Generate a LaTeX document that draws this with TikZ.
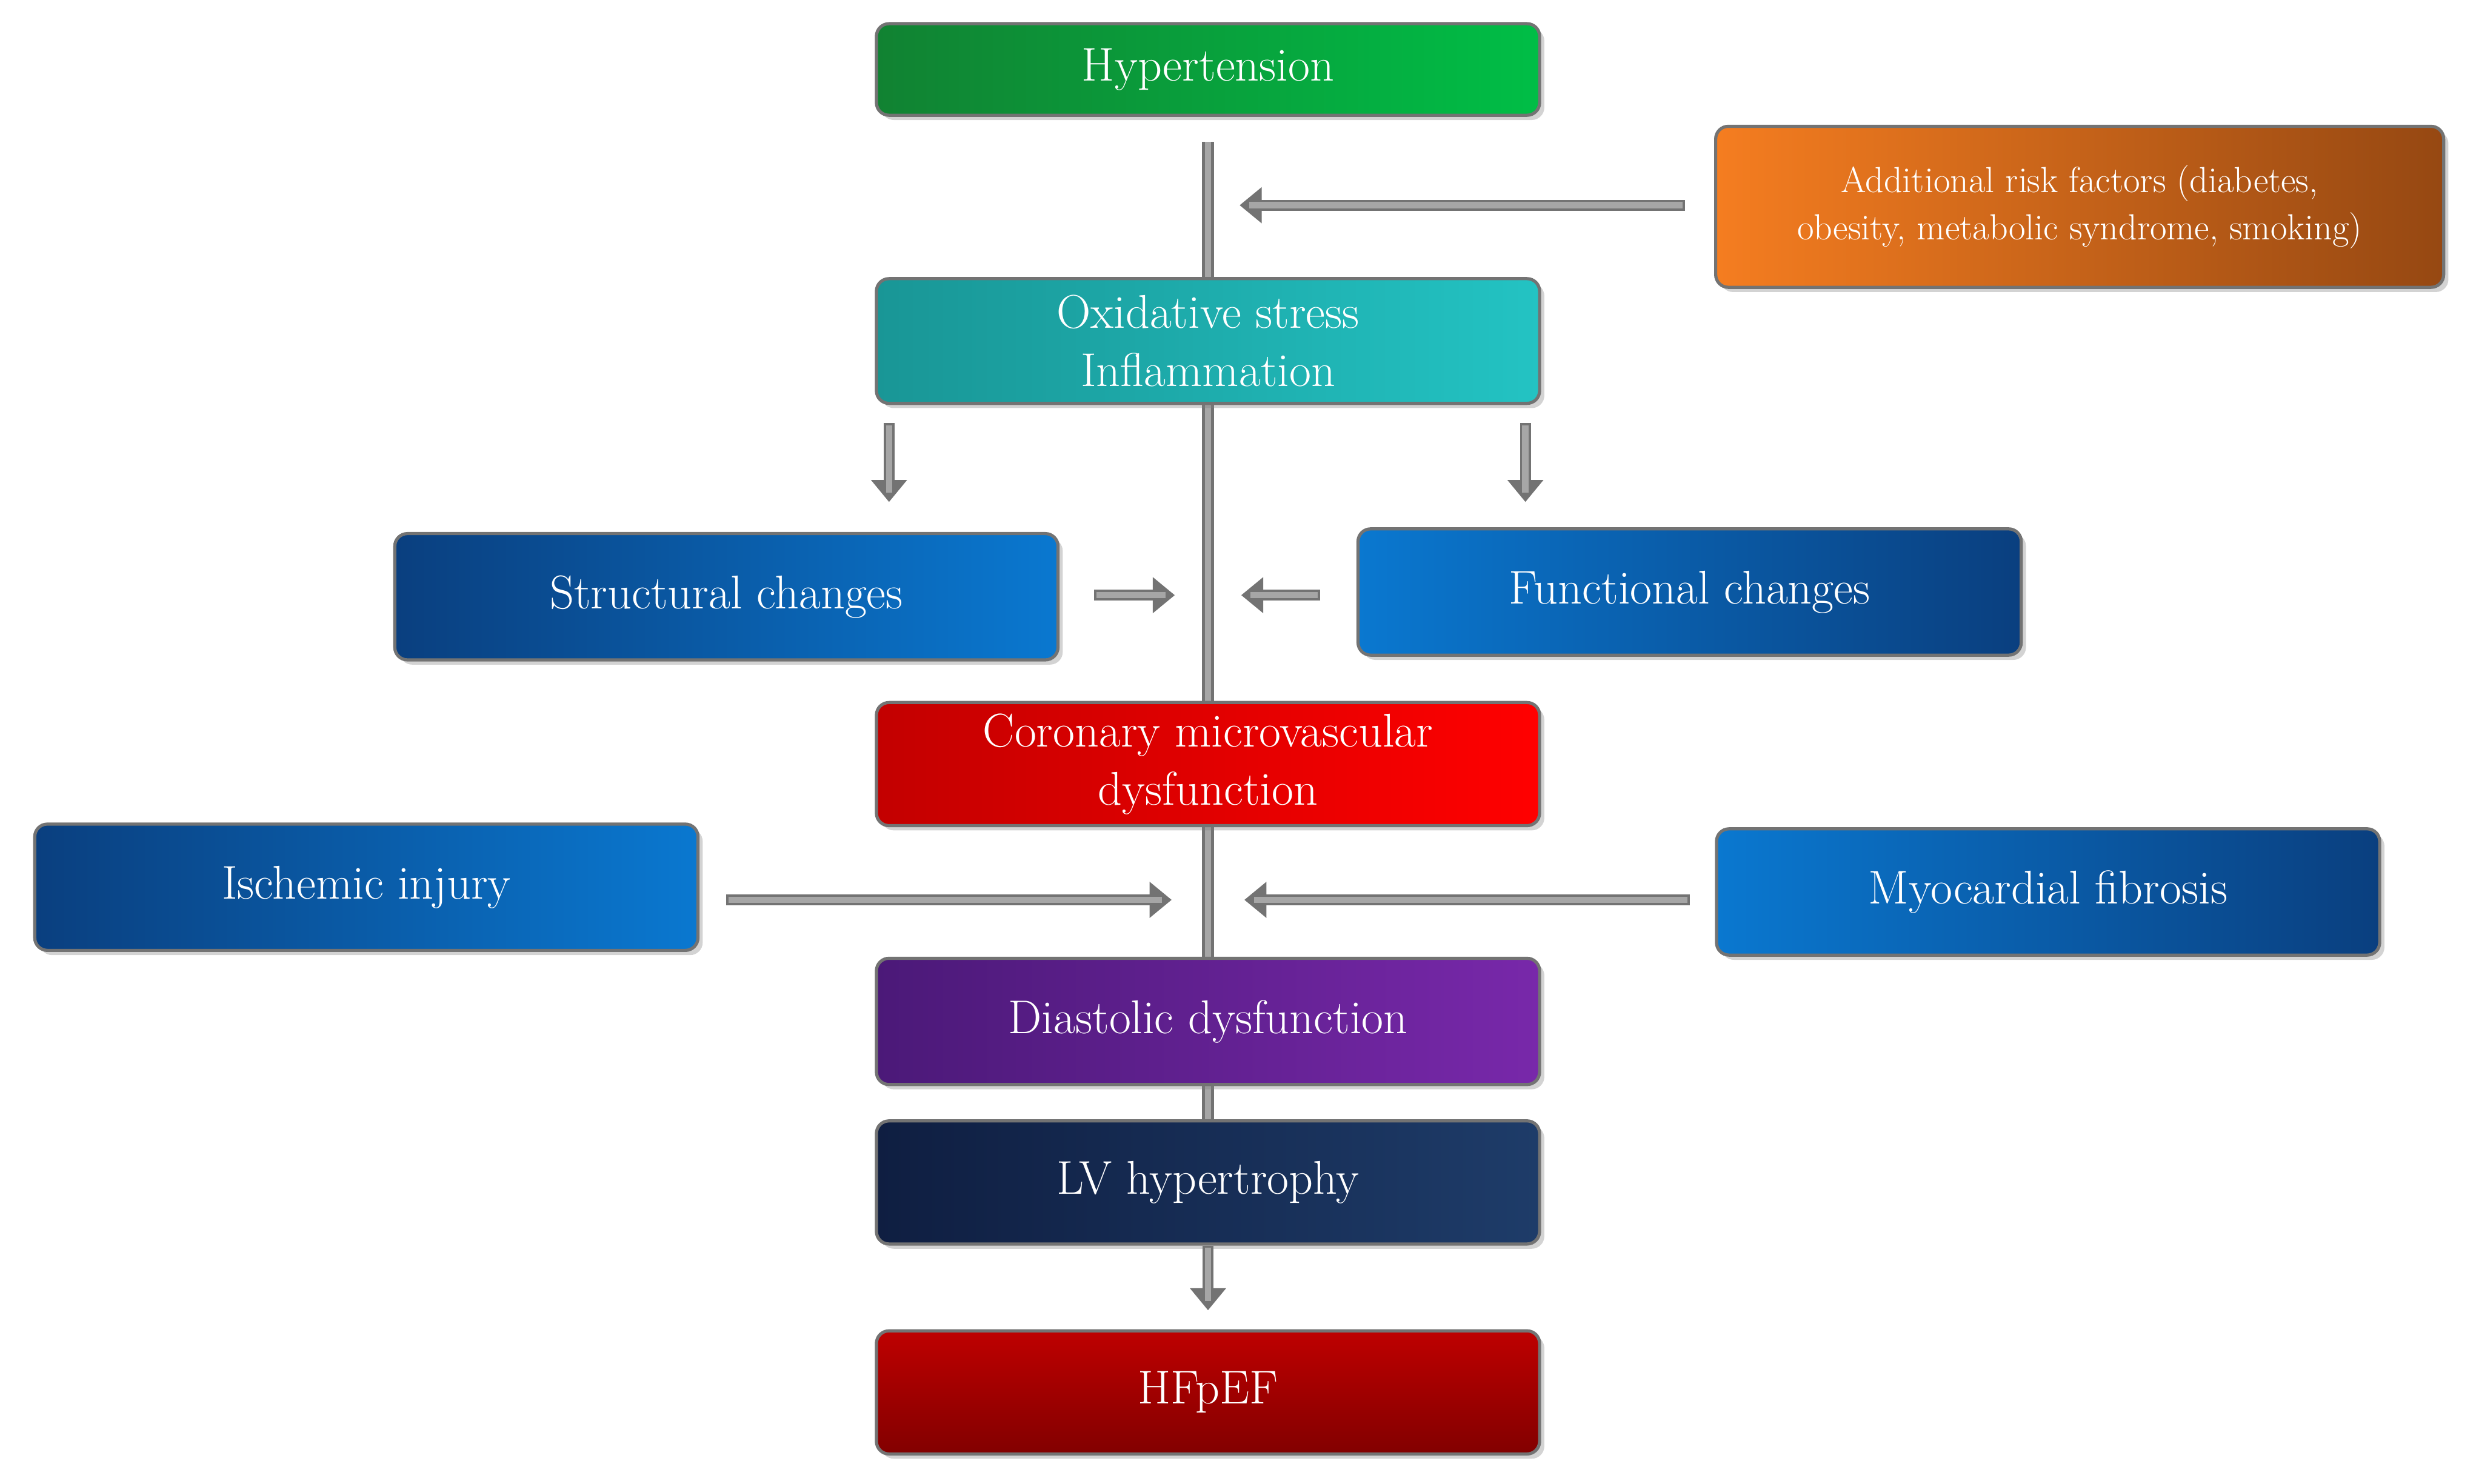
\documentclass[tikz,border=0pt]{standalone}
\usetikzlibrary{arrows.meta,shadows,backgrounds}
\begin{document}
\begin{tikzpicture}[x=1pt,y=1pt,
 box/.style={rounded corners=8pt,draw=black!55,line width=2pt,minimum width=420pt,minimum height=78pt,
   align=center,text=white,font=\fontsize{30}{36}\selectfont,drop shadow={opacity=0.35,shadow xshift=3pt,shadow yshift=-3pt}},
 arr/.style={line width=7pt,draw=black!55,-{Triangle[length=14pt,width=22pt]}},
 arrin/.style={line width=4pt,draw=black!35,shorten >=6pt,shorten <=1.5pt}]
\useasboundingbox (0,0) rectangle (1568,-940);
\definecolor{db}{HTML}{0A3F7F}\definecolor{lb}{HTML}{0A78D0}
\node[box,minimum height=58pt,left color={rgb,255:red,17;green,130;blue,50},right color={rgb,255:red,0;green,190;blue,70}] (hyp) at (765,-44) {Hypertension};
\node[box,minimum width=461pt,minimum height=102pt,font=\fontsize{23}{30}\selectfont,left color={rgb,255:red,245;green,125;blue,32},right color={rgb,255:red,150;green,72;blue,18}] (risk) at (1317,-131) {Additional risk factors (diabetes,\\ obesity, metabolic syndrome, smoking)};
\node[box,minimum height=79pt,font=\fontsize{30}{37}\selectfont,left color={rgb,255:red,25;green,150;blue,150},right color={rgb,255:red,35;green,195;blue,195}] (ox) at (765,-216) {Oxidative stress\\Inflammation};
\node[box,minimum height=80pt,left color=db,right color=lb] (str) at (460,-378) {Structural changes};
\node[box,minimum height=80pt,left color=lb,right color=db] (fun) at (1070,-375) {Functional changes};
\node[box,font=\fontsize{30}{37}\selectfont,left color={rgb,255:red,195;green,0;blue,0},right color={rgb,255:red,255;green,0;blue,0}] (cor) at (765,-484) {Coronary microvascular\\dysfunction};
\node[box,minimum height=80pt,left color=db,right color=lb] (isc) at (232,-562) {Ischemic injury};
\node[box,minimum height=80pt,left color=lb,right color=db] (myo) at (1297,-565) {Myocardial fibrosis};
\node[box,minimum height=80pt,left color={rgb,255:red,75;green,25;blue,120},right color={rgb,255:red,120;green,40;blue,170}] (dia) at (765,-647) {Diastolic dysfunction};
\node[box,left color={rgb,255:red,15;green,30;blue,65},right color={rgb,255:red,30;green,60;blue,105}] (lv) at (765,-749) {LV hypertrophy};
\node[box,top color={rgb,255:red,190;green,0;blue,0},bottom color={rgb,255:red,130;green,0;blue,0}] (hf) at (765,-882) {HFpEF};
\coordinate (top) at (765,-90);
\begin{scope}[on background layer]
\draw[line width=8pt,draw=black!55] (top) -- (lv.north);
\draw[line width=4pt,draw=black!35] (top) -- (lv.north);
\end{scope}
\coordinate (r1) at (1067,-130); \coordinate (r2) at (785,-130);
\coordinate (a1) at (563,-268); \coordinate (a2) at (563,-318);
\coordinate (b1) at (966,-268); \coordinate (b2) at (966,-318);
\coordinate (s1) at (693,-377); \coordinate (s2) at (744,-377);
\coordinate (f1) at (836,-377); \coordinate (f2) at (786,-377);
\coordinate (i1) at (460,-570); \coordinate (i2) at (742,-570);
\coordinate (m1) at (1070,-570); \coordinate (m2) at (788,-570);
\coordinate (h2) at (765,-830);
\foreach \p/\q in {r1/r2,a1/a2,b1/b2,s1/s2,f1/f2,i1/i2,m1/m2,lv.south/h2}{
 \draw[arr] (\p) -- (\q);
 \draw[arrin] (\p) -- (\q);}
\end{tikzpicture}
\end{document}
